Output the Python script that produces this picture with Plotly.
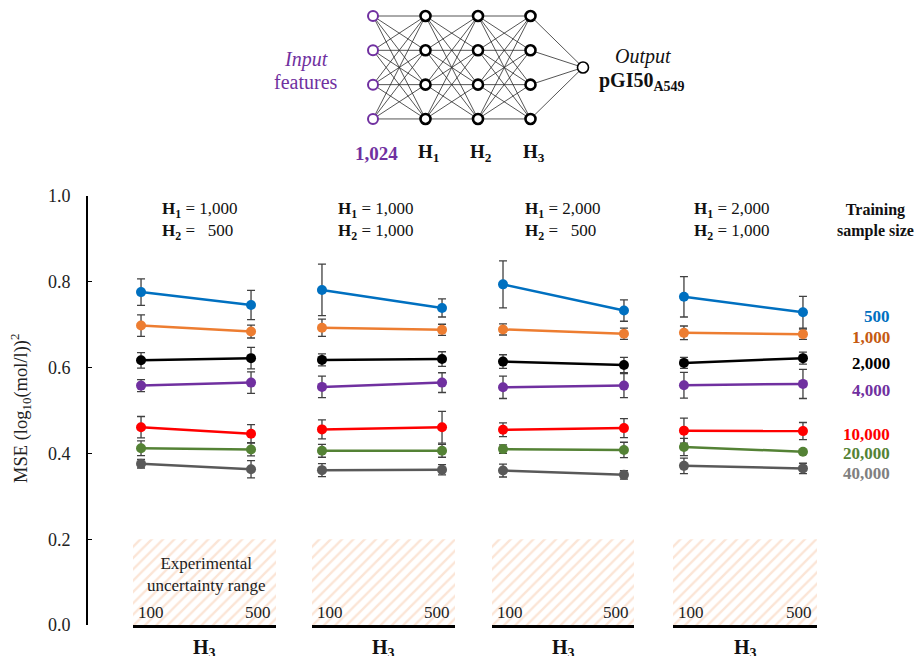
import plotly.graph_objects as go

# ---------------- data ----------------
h3_sizes = ["100", "500"]
sample_sizes = ["500", "1,000", "2,000", "4,000", "10,000", "20,000", "40,000"]
h1_sizes = ["1,000", "1,000", "2,000", "2,000"]
h2_sizes = ["500", "1,000", "500", "1,000"]

# MSE at H3 = 100 / 500 and error bars, one list per (H1, H2) panel
p1_mse_100 = [0.776, 0.698, 0.617, 0.558, 0.461, 0.412, 0.376]
p1_mse_500 = [0.746, 0.684, 0.622, 0.565, 0.446, 0.409, 0.363]
p1_err_100 = [0.031, 0.025, 0.018, 0.014, 0.025, 0.017, 0.010]
p1_err_500 = [0.034, 0.015, 0.025, 0.025, 0.021, 0.015, 0.020]

p2_mse_100 = [0.781, 0.693, 0.618, 0.555, 0.456, 0.406, 0.361]
p2_mse_500 = [0.739, 0.688, 0.620, 0.565, 0.461, 0.406, 0.362]
p2_err_100 = [0.060, 0.020, 0.014, 0.025, 0.022, 0.015, 0.015]
p2_err_500 = [0.021, 0.013, 0.017, 0.023, 0.037, 0.015, 0.012]

p3_mse_100 = [0.794, 0.689, 0.614, 0.554, 0.455, 0.410, 0.360]
p3_mse_500 = [0.733, 0.679, 0.606, 0.558, 0.459, 0.408, 0.350]
p3_err_100 = [0.055, 0.013, 0.016, 0.026, 0.016, 0.010, 0.015]
p3_err_500 = [0.025, 0.013, 0.018, 0.028, 0.022, 0.018, 0.010]

p4_mse_100 = [0.765, 0.681, 0.611, 0.559, 0.453, 0.415, 0.371]
p4_mse_500 = [0.729, 0.678, 0.622, 0.562, 0.452, 0.404, 0.365]
p4_err_100 = [0.047, 0.016, 0.013, 0.030, 0.029, 0.020, 0.018]
p4_err_500 = [0.037, 0.012, 0.014, 0.034, 0.020, 0.005, 0.012]

experimental_uncertainty = 0.2
y_ticks = [0.0, 0.2, 0.4, 0.6, 0.8, 1.0]

# network schematic: nodes drawn per layer
layer_nodes = [4, 4, 4, 4, 1]
layer_labels = ["<b>1,024</b>", "<b>H<sub>1</sub></b>", "<b>H<sub>2</sub></b>", "<b>H<sub>3</sub></b>"]

# ---------------- styling ----------------
line_colors = ["#0070C0", "#ED7D31", "#000000", "#7030A0", "#FF0000", "#548235", "#595959"]
label_colors = ["#0070C0", "#C55A11", "#000000", "#7030A0", "#FF0000", "#548235", "#808080"]
PURPLE = "#7030A0"
SERIF = "Liberation Serif, Times New Roman, serif"

W, H = 917, 656
PLOT_BOTTOM = 625  # pixel row of the plot-area bottom


def fx(p):
    return p / W


def fy(p):
    return (PLOT_BOTTOM - p) / PLOT_BOTTOM


panel_px = [(133, 276), (312, 455), (492, 634), (673, 817)]
panel_ranges = [(-0.073, 1.227), (-0.083, 1.108), (-0.091, 1.083), (-0.092, 1.118)]
title_left_px = [160, 336, 523, 692]
size_label_px = [316, 338, 363, 391, 434, 453, 473]

panels = [
    (p1_mse_100, p1_mse_500, p1_err_100, p1_err_500),
    (p2_mse_100, p2_mse_500, p2_err_100, p2_err_500),
    (p3_mse_100, p3_mse_500, p3_err_100, p3_err_500),
    (p4_mse_100, p4_mse_500, p4_err_100, p4_err_500),
]

fig = go.Figure()
annotations = []


def paper_text(x, y, text, size, color="#111", **kw):
    return dict(x=fx(x), y=fy(y), xref="paper", yref="paper", text=text,
                xanchor=kw.pop("xanchor", "center"), yanchor=kw.pop("yanchor", "middle"),
                showarrow=False, font=dict(family=SERIF, size=size, color=color), **kw)


for i, (m100, m500, e100, e500) in enumerate(panels):
    xa = "x" if i == 0 else f"x{i + 1}"
    r0, r1 = panel_ranges[i]
    # hatched experimental-uncertainty band
    fig.add_trace(go.Scatter(
        x=[r0, r1, r1, r0, r0],
        y=[0, 0, experimental_uncertainty, experimental_uncertainty, 0],
        xaxis=xa, yaxis="y", mode="lines", fill="toself",
        line=dict(width=0, color="rgba(0,0,0,0)"),
        fillcolor="white",
        fillpattern=dict(shape="/", fgcolor="#F8CBAD", bgcolor="white", size=8, solidity=0.3),
        hoverinfo="skip", showlegend=False,
    ))
    for j, name in enumerate(sample_sizes):
        fig.add_trace(go.Scatter(
            x=[0, 1], y=[m100[j], m500[j]],
            xaxis=xa, yaxis="y", mode="lines+markers", name=name,
            line=dict(color=line_colors[j], width=2.5),
            marker=dict(color=line_colors[j], size=10),
            error_y=dict(type="data", array=[e100[j], e500[j]], color="#404040",
                         thickness=1.3, width=4),
            showlegend=False, cliponaxis=False,
        ))
    # H3 value labels inside the band
    annotations.append(dict(x=r0, y=0, xref=xa, yref="y", text=h3_sizes[0],
                            xanchor="left", yanchor="bottom", yshift=1, xshift=3,
                            showarrow=False, font=dict(family=SERIF, size=17, color="#222")))
    annotations.append(dict(x=r1, y=0, xref=xa, yref="y", text=h3_sizes[1],
                            xanchor="right", yanchor="bottom", yshift=1, xshift=-3,
                            showarrow=False, font=dict(family=SERIF, size=17, color="#222")))
    # H3 axis title
    annotations.append(dict(x=fx((panel_px[i][0] + panel_px[i][1]) / 2), y=0, xref="paper", yref="paper",
                            text="<b>H<sub>3</sub></b>", xanchor="center", yanchor="top", yshift=-9,
                            showarrow=False, font=dict(family=SERIF, size=20, color="#111")))
    # panel title
    pad = "\u00a0\u00a0" if len(h2_sizes[i]) == 3 else ""
    annotations.append(paper_text(
        title_left_px[i], 221,
        f"<b>H<sub>1</sub></b> = {h1_sizes[i]}<br><b>H<sub>2</sub></b> = {pad}{h2_sizes[i]}",
        17, xanchor="left", align="left"))

annotations.append(paper_text(206, 574, "Experimental<br>uncertainty range", 17, "#222"))

# sample-size legend at the right
annotations.append(paper_text(875, 220, "<b>Training<br>sample size</b>", 16))
for j, name in enumerate(sample_sizes):
    annotations.append(paper_text(892, size_label_px[j], f"<b>{name}</b>", 17, label_colors[j],
                                  xanchor="right"))

# y-axis title
annotations.append(paper_text(20, 409, "MSE (log<sub>10</sub>(mol/l))<sup>2</sup>", 18.5, "#222",
                              textangle=-90))

# ---------------- network schematic ----------------
node_xy = []
for li, n in enumerate(layer_nodes):
    node_xy.append([(li, k) if n > 1 else (li, 1.5) for k in range(n)])

edge_x, edge_y = [], []
for li in range(len(layer_nodes) - 1):
    for (xa_, ya_) in node_xy[li]:
        for (xb_, yb_) in node_xy[li + 1]:
            edge_x += [xa_, xb_, None]
            edge_y += [ya_, yb_, None]
fig.add_trace(go.Scatter(x=edge_x, y=edge_y, xaxis="x5", yaxis="y5", mode="lines",
                         line=dict(color="#2a2a2a", width=0.8), hoverinfo="skip", showlegend=False))

for li, nodes in enumerate(node_xy):
    is_input = li == 0
    is_output = li == len(node_xy) - 1
    fig.add_trace(go.Scatter(
        x=[p[0] for p in nodes], y=[p[1] for p in nodes], xaxis="x5", yaxis="y5",
        mode="markers", hoverinfo="skip", showlegend=False, cliponaxis=False,
        marker=dict(size=10 if not is_output else 11, color="white",
                    line=dict(color=PURPLE if is_input else "black",
                              width=2 if is_input else (1.6 if is_output else 2.6))),
    ))

for li, lab in enumerate(layer_labels):
    annotations.append(dict(x=li, y=4.0, xref="x5", yref="y5", text=lab,
                            xanchor="center", yanchor="middle", xshift=3, showarrow=False,
                            font=dict(family=SERIF, size=19, color=PURPLE if li == 0 else "#111")))

annotations += [
    paper_text(306, 60, "<i>Input</i>", 20, PURPLE),
    paper_text(306, 82, "features", 20, PURPLE),
    paper_text(643, 57, "<i>Output</i>", 20),
    paper_text(642, 81, "<b>pGI50<sub>A549</sub></b>", 20),
]

# ---------------- layout ----------------
layout = dict(
    width=W, height=H,
    margin=dict(l=0, r=0, t=0, b=H - PLOT_BOTTOM, autoexpand=False),
    paper_bgcolor="white", plot_bgcolor="rgba(0,0,0,0)",
    showlegend=False,
    annotations=annotations,
    yaxis=dict(domain=[0, fy(196)], range=[0, 1], anchor="free", position=fx(87),
               showline=True, linecolor="black", linewidth=2,
               ticks="inside", ticklen=4, tickcolor="black", tickwidth=1,
               tickvals=y_ticks, tickformat=".1f", ticklabelstandoff=12,
               showgrid=False, zeroline=False,
               tickfont=dict(family=SERIF, size=18, color="#222")),
    xaxis5=dict(domain=[fx(320.5), fx(635.5)], range=[-1, 5], visible=False, anchor="y5"),
    yaxis5=dict(domain=[fy(167), fy(2.27)], range=[4.4, -0.4], visible=False, anchor="x5"),
)
for i, (a, b) in enumerate(panel_px):
    key = "xaxis" if i == 0 else f"xaxis{i + 1}"
    layout[key] = dict(domain=[fx(a), fx(b)], range=list(panel_ranges[i]), anchor="y",
                       showline=True, linecolor="black", linewidth=3,
                       showticklabels=False, ticks="", showgrid=False, zeroline=False)

fig.update_layout(**layout)
fig.write_html("out.html")
